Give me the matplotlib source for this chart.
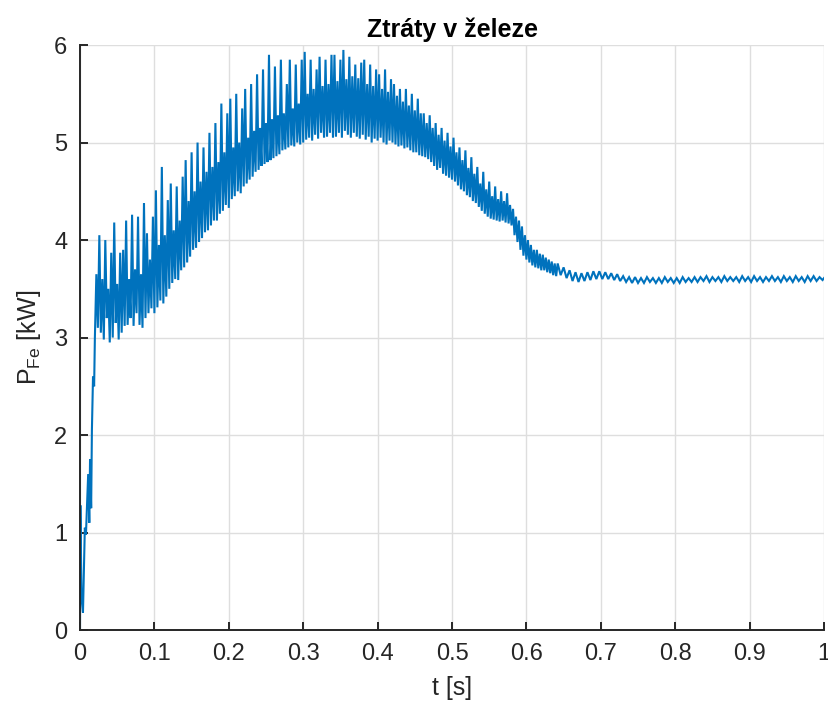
import numpy as np
import matplotlib
matplotlib.use("Agg")
import matplotlib.pyplot as plt

# start-up transient
t_start = [0.0, 0.0005, 0.002, 0.004, 0.0065, 0.008, 0.0095, 0.011, 0.0125,
           0.0135, 0.015, 0.016, 0.0175, 0.019, 0.020]
p_start = [0.0, 1.28, 0.35, 0.18, 1.05, 0.98, 1.30, 1.60, 1.10,
           1.75, 1.25, 2.05, 2.60, 2.50, 3.00]

# oscillating part: peaks at 0.022 + 0.004*k, troughs 0.002 s later
fast_t0, fast_step = 0.022, 0.004
fast_peaks = [
    3.65, 4.05, 3.60, 4.00, 3.50, 3.87, 4.18, 3.55, 3.87, 3.90,
    4.20, 3.60, 4.26, 3.70, 4.24, 3.65, 4.38, 4.07, 3.80, 4.24,
    4.51, 3.95, 4.75, 4.05, 4.41, 4.58, 4.10, 4.55, 4.20, 4.65,
    4.82, 4.40, 4.90, 4.50, 5.00, 4.60, 4.95, 4.70, 5.10, 4.75,
    5.20, 4.80, 5.40, 4.90, 5.30, 5.45, 4.95, 5.50, 5.00, 5.35,
    5.55, 5.05, 5.60, 5.12, 5.70, 5.15, 5.75, 5.20, 5.90, 5.24,
    5.78, 5.28, 5.85, 5.30, 5.60, 5.85, 5.35, 5.80, 5.40, 5.85,
    5.93, 5.50, 5.85, 5.55, 5.75, 5.88, 5.58, 5.85, 5.60, 5.90,
    5.90, 5.63, 5.85, 5.95, 5.65, 5.88, 5.68, 5.80, 5.66, 5.82,
    5.85, 5.60, 5.80, 5.58, 5.75, 5.70, 5.55, 5.75, 5.52, 5.65,
    5.60, 5.48, 5.55, 5.42, 5.55, 5.38, 5.50, 5.33, 5.45, 5.30,
    5.30, 5.20, 5.28, 5.15, 5.20, 5.08, 5.15, 5.02, 5.10, 4.96,
    5.05, 4.90, 4.95, 4.82, 4.92, 4.74, 4.85, 4.68, 4.75, 4.58,
    4.70, 4.52, 4.60, 4.45, 4.55, 4.42, 4.50, 4.40, 4.48, 4.36,
    4.32, 4.24, 4.20, 4.14, 4.05, 4.00, 3.95, 3.90, 3.90, 3.86,
    3.85, 3.82, 3.80, 3.78, 3.76,
]
fast_troughs = [
    3.10, 3.05, 2.98, 3.20, 2.95, 3.00, 3.15, 2.98, 3.05, 3.12,
    3.13, 3.20, 3.12, 3.25, 3.13, 3.10, 3.20, 3.25, 3.30, 3.25,
    3.31, 3.38, 3.35, 3.42, 3.50, 3.56, 3.60, 3.59, 3.69, 3.72,
    3.77, 3.83, 3.90, 3.92, 3.98, 4.02, 4.08, 4.10, 4.15, 4.20,
    4.20, 4.27, 4.30, 4.36, 4.33, 4.42, 4.45, 4.50, 4.48, 4.55,
    4.58, 4.62, 4.65, 4.70, 4.72, 4.76, 4.78, 4.80, 4.82, 4.84,
    4.86, 4.88, 4.92, 4.93, 4.95, 4.97, 4.96, 5.00, 4.98, 5.00,
    5.03, 5.05, 5.02, 5.08, 5.04, 5.10, 5.05, 5.06, 5.10, 5.05,
    5.06, 5.10, 5.05, 5.12, 5.08, 5.05, 5.10, 5.06, 5.04, 5.08,
    5.03, 5.06, 5.00, 5.04, 5.02, 5.05, 5.00, 4.98, 5.02, 5.00,
    4.98, 4.96, 4.97, 4.94, 4.95, 4.92, 4.90, 4.90, 4.87, 4.86,
    4.85, 4.83, 4.80, 4.76, 4.72, 4.74, 4.68, 4.66, 4.64, 4.62,
    4.60, 4.56, 4.52, 4.50, 4.46, 4.44, 4.40, 4.38, 4.34, 4.30,
    4.27, 4.24, 4.22, 4.21, 4.20, 4.19, 4.20, 4.18, 4.17, 4.15,
    4.05, 3.98, 3.90, 3.84, 3.80, 3.77, 3.74, 3.72, 3.71, 3.69,
    3.69, 3.67, 3.66, 3.64, 3.63,
]

# settled tail: peaks at 0.642 + 0.008*k, troughs 0.004 s later
tail_t0, tail_step = 0.642, 0.008
tail_peaks = [
    3.76, 3.72, 3.69, 3.67, 3.66, 3.67, 3.68, 3.68, 3.67, 3.66,
    3.65, 3.63, 3.62, 3.62, 3.61, 3.62, 3.61, 3.61, 3.62, 3.61,
    3.61, 3.62, 3.61, 3.62, 3.62, 3.63, 3.62, 3.62, 3.63, 3.62,
    3.62, 3.63, 3.62, 3.63, 3.62, 3.62, 3.63, 3.62, 3.63, 3.62,
    3.63, 3.62, 3.63, 3.63, 3.62,
]
tail_troughs = [
    3.64, 3.61, 3.58, 3.57, 3.58, 3.59, 3.60, 3.60, 3.60, 3.59,
    3.58, 3.57, 3.56, 3.56, 3.56, 3.57, 3.56, 3.56, 3.57, 3.56,
    3.56, 3.57, 3.57, 3.57, 3.58, 3.57, 3.58, 3.57, 3.58, 3.58,
    3.57, 3.58, 3.57, 3.58, 3.57, 3.58, 3.58, 3.57, 3.58, 3.57,
    3.58, 3.57, 3.58, 3.58, 3.59,
]
t_end, p_end = 1.0, 3.61

x_ticks = [0, 0.1, 0.2, 0.3, 0.4, 0.5, 0.6, 0.7, 0.8, 0.9, 1]
x_labels = ["0", "0.1", "0.2", "0.3", "0.4", "0.5", "0.6", "0.7", "0.8", "0.9", "1"]
y_ticks = [0, 1, 2, 3, 4, 5, 6]


def zigzag(t0, step, peaks, troughs):
    tp = t0 + step * np.arange(len(peaks))
    t = np.column_stack([tp, tp + step / 2]).ravel()
    p = np.column_stack([peaks, troughs]).ravel()
    return t, p


t_fast, p_fast = zigzag(fast_t0, fast_step, fast_peaks, fast_troughs)
t_tail, p_tail = zigzag(tail_t0, tail_step, tail_peaks, tail_troughs)
t = np.concatenate([t_start, t_fast, t_tail, [t_end]])
p = np.concatenate([p_start, p_fast, p_tail, [p_end]])

narrow = ["Liberation Sans Narrow", "Liberation Sans", "DejaVu Sans"]
plt.rcParams["font.family"] = narrow
plt.rcParams["mathtext.fontset"] = "custom"
plt.rcParams["mathtext.rm"] = "Liberation Sans Narrow"
ink = "#262626"

fig = plt.figure(figsize=(8.29, 7.04), dpi=100)
ax = fig.add_axes([0.0965, 0.105, 0.8975, 0.831])
ax.plot(t, p, color="#0072BD", linewidth=1.5, solid_joinstyle="miter")

ax.set_xlim(0, 1)
ax.set_ylim(0, 6)
ax.set_xticks(x_ticks)
ax.set_xticklabels(x_labels)
ax.set_yticks(y_ticks)
ax.grid(True, color="#dedede", linewidth=1.0)
ax.set_axisbelow(True)

for side in ("top", "right"):
    ax.spines[side].set_visible(False)
for side in ("left", "bottom"):
    ax.spines[side].set_color(ink)
    ax.spines[side].set_linewidth(1.4)
ax.tick_params(direction="in", length=6, width=1.4, color=ink,
               labelcolor=ink, labelsize=17, pad=9)

ax.set_title("Ztráty v železe", fontsize=18, fontweight="bold", color="black",
             pad=6, family=["Liberation Sans", "DejaVu Sans"])
ax.set_xlabel("t [s]", fontsize=18, color=ink, labelpad=8)
ax.set_ylabel(r"P$_{\mathregular{Fe}}$ [kW]", fontsize=18, color=ink, labelpad=8)

fig.savefig("out.png", dpi=100)
